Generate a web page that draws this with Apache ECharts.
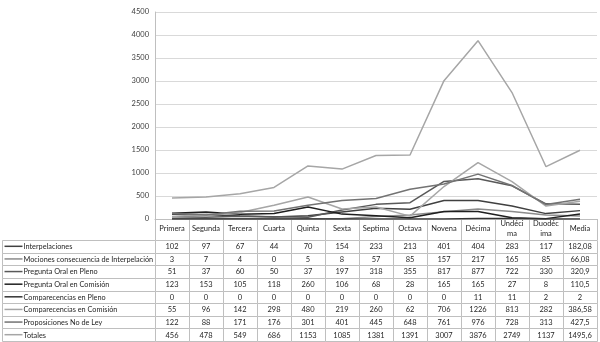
<!DOCTYPE html>
<html>
<head>
<meta charset="utf-8">
<script src="https://cdn.jsdelivr.net/npm/echarts@6/dist/echarts.min.js"></script>
<style>
html,body{margin:0;padding:0;background:#fff;}
#main{width:600px;height:342px;}
</style>
</head>
<body>
<div id="main"></div>
<script>
// legislaturas (columnas)
var categorias = ['Primera','Segunda','Tercera','Cuarta','Quinta','Sexta','Septima','Octava','Novena','Décima','Undécima','Duodécima','Media'];
var nombres = ['Interpelaciones','Mociones consecuencia de Interpelación','Pregunta Oral en Pleno','Pregunta Oral en Comisión','Comparecencias en Pleno','Comparecencias en Comisión','Proposiciones No de Ley','Totales'];

var interpelaciones = [102,97,67,44,70,154,233,213,401,404,283,117,182.08];
var mociones = [3,7,4,0,5,8,57,85,157,217,165,85,66.08];
var preguntaPleno = [51,37,60,50,37,197,318,355,817,877,722,330,320.9];
var preguntaComision = [123,153,105,118,260,106,68,28,165,165,27,8,110.5];
var comparecenciasPleno = [0,0,0,0,0,0,0,0,0,11,11,2,2];
var comparecenciasComision = [55,96,142,298,480,219,260,62,706,1226,813,282,386.58];
var proposiciones = [122,88,171,176,301,401,445,648,761,976,728,313,427.5];
var totales = [456,478,549,686,1153,1085,1381,1391,3007,3876,2749,1137,1495.6];

var valores = [interpelaciones,mociones,preguntaPleno,preguntaComision,comparecenciasPleno,comparecenciasComision,proposiciones,totales];
var colores = ['#404040','#8c8c8c','#595959','#1f1f1f','#333333','#a6a6a6','#737373','#a6a6a6'];

var fuente = 'Lato';
var borde = '#bfbfbf';

function fmt(v){
    return String(v).replace('.', ',');
}
function px(v){
    return Math.round(v) + 0.5;
}

var series = [];
for (var i = 0; i < nombres.length; i++) {
    series.push({
        name: nombres[i],
        type: 'line',
        xAxisIndex: 0,
        yAxisIndex: 0,
        showSymbol: false,
        lineStyle: {color: colores[i], width: 1.5},
        itemStyle: {color: colores[i]},
        data: valores[i]
    });
}

// celdas de la tabla de datos
var celdas = [];
for (var i = 0; i < valores.length; i++) {
    for (var j = 0; j < categorias.length; j++) {
        celdas.push([j, i, valores[i][j]]);
    }
}
series.push({
    type: 'custom',
    xAxisIndex: 1,
    yAxisIndex: 1,
    data: celdas,
    renderItem: function(params, api){
        var c = api.coord([api.value(0), api.value(1)]);
        var s = api.size([1, 1]);
        var x0 = px(c[0] - s[0] / 2), y0 = px(c[1] - s[1] / 2);
        var x1 = px(c[0] + s[0] / 2), y1 = px(c[1] + s[1] / 2);
        return {type: 'group', children: [
            {type: 'rect', shape: {x: x0, y: y0, width: x1 - x0, height: y1 - y0},
             style: {fill: '#fff', stroke: borde, lineWidth: 1}},
            {type: 'text', style: {text: fmt(api.value(2)), x: c[0], y: c[1] + 0.5,
             align: 'center', verticalAlign: 'middle', font: '7.5px ' + fuente, fill: '#262626'}}
        ]};
    }
});

// columna de nombres con leyenda
var filas = [];
for (var i = 0; i < nombres.length; i++) filas.push([0, i]);
series.push({
    type: 'custom',
    xAxisIndex: 2,
    yAxisIndex: 2,
    data: filas,
    renderItem: function(params, api){
        var i = api.value(1);
        var c = api.coord([0, i]);
        var s = api.size([1, 1]);
        var x0 = px(c[0] - s[0] / 2), y0 = px(c[1] - s[1] / 2);
        var x1 = px(c[0] + s[0] / 2), y1 = px(c[1] + s[1] / 2);
        return {type: 'group', children: [
            {type: 'rect', shape: {x: x0, y: y0, width: x1 - x0, height: y1 - y0},
             style: {fill: '#fff', stroke: borde, lineWidth: 1}},
            {type: 'line', shape: {x1: x0 + 2, y1: c[1], x2: x0 + 20, y2: c[1]},
             style: {stroke: colores[i], lineWidth: 1.5}},
            {type: 'text', style: {text: nombres[i], x: x0 + 21, y: c[1] + 0.5,
             align: 'left', verticalAlign: 'middle', font: '7.3px ' + fuente, fill: '#262626'}}
        ]};
    }
});

var myChart = echarts.init(document.getElementById('main'));
var option = {
    animation: false,
    textStyle: {fontFamily: fuente},
    grid: [
        {left: 155, right: 3, top: 12, height: 207},
        {left: 155, right: 3, top: 240, bottom: 1},
        {left: 2, width: 153, top: 240, bottom: 1}
    ],
    xAxis: [
        {
            gridIndex: 0, type: 'category', data: categorias, boundaryGap: true,
            axisLine: {lineStyle: {color: borde}},
            axisTick: {show: true, interval: 0, length: 21, lineStyle: {color: borde}},
            axisLabel: {interval: 0, fontSize: 7.5, color: '#262626', margin: 10,
                verticalAlign: 'middle', lineHeight: 10, width: 31, overflow: 'breakAll'}
        },
        {gridIndex: 1, type: 'category', data: categorias, show: false},
        {gridIndex: 2, type: 'category', data: ['nombre'], show: false}
    ],
    yAxis: [
        {
            gridIndex: 0, type: 'value', min: 0, max: 4500, interval: 500,
            axisLine: {show: true, lineStyle: {color: borde}},
            axisTick: {show: false},
            axisLabel: {fontSize: 7.5, color: '#404040', margin: 6,
                formatter: function(v){ return String(v); }},
            splitLine: {lineStyle: {color: '#d9d9d9'}}
        },
        {gridIndex: 1, type: 'category', data: nombres, inverse: true, show: false},
        {gridIndex: 2, type: 'category', data: nombres, inverse: true, show: false}
    ],
    series: series
};
myChart.setOption(option);
</script>
</body>
</html>
